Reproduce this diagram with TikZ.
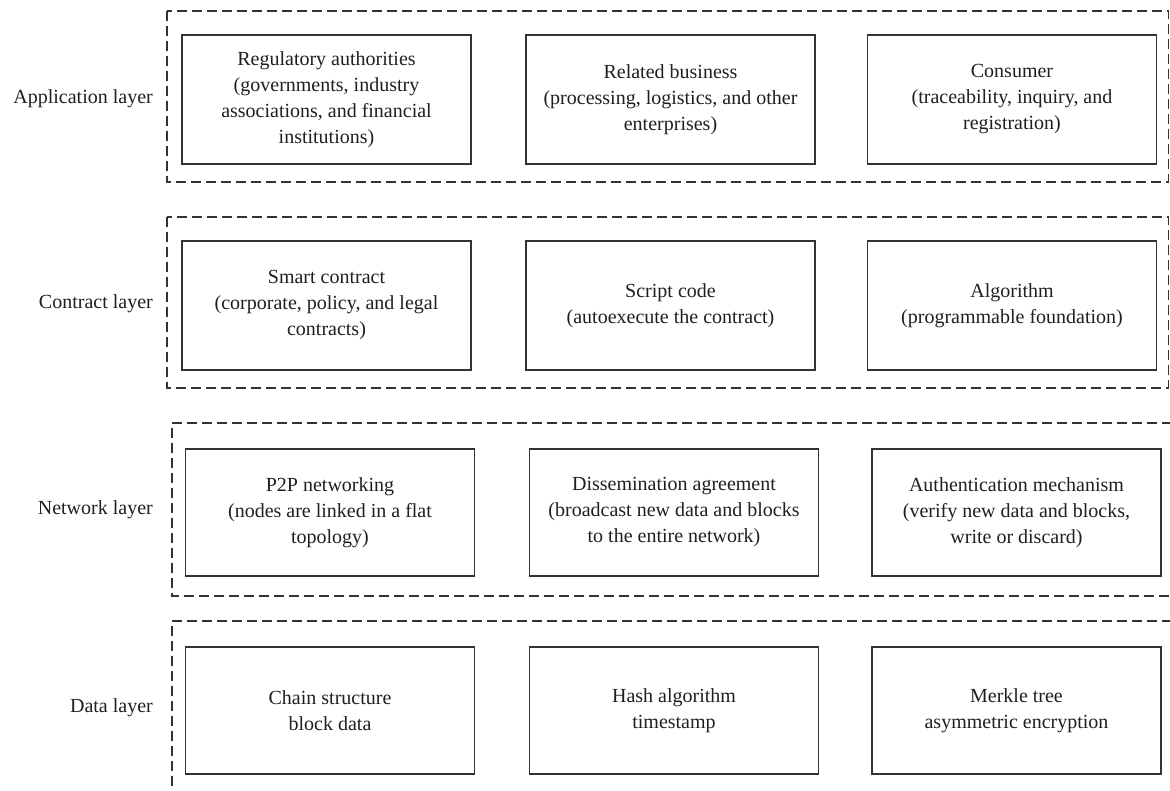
\documentclass[tikz,border=0pt]{standalone}
\usepackage{fontspec}
\setmainfont{Liberation Serif}
\begin{document}
\begin{tikzpicture}[x=1pt,y=-1pt,
  txt/.style={text=black!88, font=\fontsize{20}{26}\selectfont},
  box/.style={txt, draw=black!80, line width=1.8pt, align=center, inner sep=0pt,
    minimum width=289pt, minimum height=129pt},
  lowbox/.style={box, minimum height=127pt},
  layerlabel/.style={txt, anchor=east, inner sep=0pt},
  layerframe/.style={draw=black!80, line width=1.8pt, dash pattern=on 10pt off 5pt}]
\useasboundingbox (0,0) rectangle (1170,791);
% dashed layer frames
\draw[layerframe] (167,11) rectangle (1168.5,182);
\draw[layerframe] (167,217) rectangle (1168.5,388);
\draw[layerframe] (1172,423) -- (172,423) -- (172,596) -- (1172,596);
\draw[layerframe] (1172,621) -- (172,621) -- (172,795);
% layer labels
\node[layerlabel] (lapp) at (153,99) {Application layer};
\node[layerlabel] (lcon) at (153,304) {Contract layer};
\node[layerlabel] (lnet) at (153,510) {Network layer};
\node[layerlabel] (ldat) at (153,708) {Data layer};
% application layer
\node[box] (a1) at (326.5,99.5) {Regulatory authorities\\(governments, industry\\associations, and financial\\institutions)};
\node[box] (a2) at (670.5,99.5) {Related business\\(processing, logistics, and other\\enterprises)};
\node[box] (a3) at (1012,99.5) {Consumer\\(traceability, inquiry, and\\registration)};
% contract layer
\node[box] (c1) at (326.5,305.5) {Smart contract\\(corporate, policy, and legal\\contracts)};
\node[box] (c2) at (670.5,305.5) {Script code\\(autoexecute the contract)};
\node[box] (c3) at (1012,305.5) {Algorithm\\(programmable foundation)};
% network layer
\node[lowbox] (n1) at (330,512.5) {P2P networking\\(nodes are linked in a flat\\topology)};
\node[lowbox] (n2) at (674,512.5) {Dissemination agreement\\(broadcast new data and blocks\\to the entire network)};
\node[lowbox] (n3) at (1016.5,512.5) {Authentication mechanism\\(verify new data and blocks,\\write or discard)};
% data layer
\node[lowbox] (d1) at (330,710.5) {Chain structure\\block data};
\node[lowbox] (d2) at (674,710.5) {Hash algorithm\\timestamp};
\node[lowbox] (d3) at (1016.5,710.5) {Merkle tree\\asymmetric encryption};
\end{tikzpicture}
\end{document}
